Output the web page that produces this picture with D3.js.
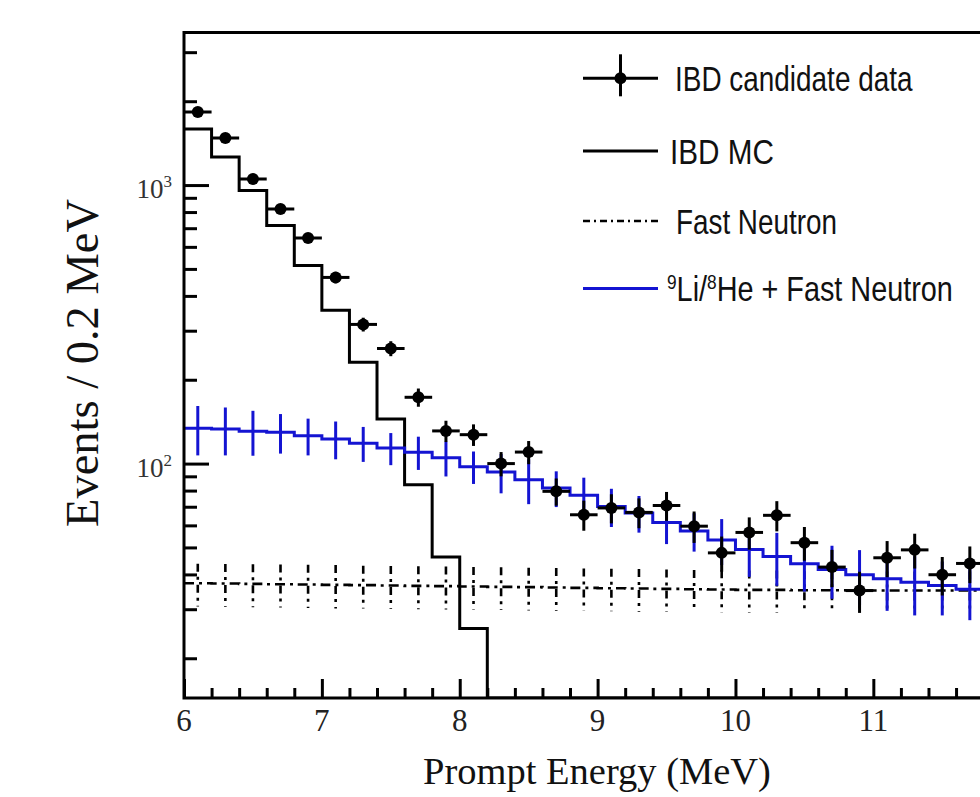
<!DOCTYPE html>
<html>
<head>
<meta charset="utf-8">
<script src="https://cdn.jsdelivr.net/npm/d3@7"></script>
<style>
  html, body { margin: 0; padding: 0; background: #fff; overflow: hidden; }
  svg { display: block; }
</style>
</head>
<body>
<svg id="chart" width="980" height="797"></svg>
<script>
// ---------------- DATA ----------------
// histogram bin lower edges (0.2 MeV bins)
const binLo = [6.0, 6.2, 6.4, 6.6, 6.8, 7.0, 7.2, 7.4, 7.6, 7.8,
               8.0, 8.2, 8.4, 8.6, 8.8, 9.0, 9.2, 9.4, 9.6, 9.8,
               10.0, 10.2, 10.4, 10.6, 10.8, 11.0, 11.2, 11.4, 11.6, 11.8];
const binWidth = 0.2;

// IBD candidate data (points)
const dataCenters = [6.1, 6.3, 6.5, 6.7, 6.9, 7.1, 7.3, 7.5, 7.7, 7.9,
                     8.1, 8.3, 8.5, 8.7, 8.9, 9.1, 9.3, 9.5, 9.7, 9.9,
                     10.1, 10.3, 10.5, 10.7, 10.9, 11.1, 11.3, 11.5, 11.7];
const dataValues = [1829, 1475, 1051, 820, 645, 466, 316, 259, 173, 131,
                    127, 100, 110, 79.5, 65.5, 69.3, 66.8, 70.7, 59.6, 47.8,
                    56.6, 65.2, 52.0, 42.5, 35.0, 45.9, 49.0, 39.9, 43.8];
const dataErrors = [43, 38, 32, 29, 25, 22, 18, 16, 13, 11.5,
                    11.3, 10, 10.5, 8.9, 8.1, 8.3, 8.2, 8.4, 7.7, 6.9,
                    7.5, 8.1, 7.2, 6.5, 5.9, 6.8, 7.0, 6.3, 6.6];

// IBD MC (black step histogram); 0 = below the axis range
const mcValues = [1589, 1260, 956, 716, 514, 355, 231, 144.7, 84.0, 46.2,
                  25.6, 0, 0, 0, 0, 0, 0, 0, 0, 0,
                  0, 0, 0, 0, 0, 0, 0, 0, 0, 0];

// 9Li/8He + Fast Neutron (blue step histogram with errors)
const bgValues = [134, 133, 130.7, 129.6, 126, 122.6, 118.4, 113.7, 109.9, 104.9,
                  97.5, 93.2, 87.5, 81.8, 77.0, 70.2, 66.5, 61.4, 57.3, 53.2,
                  49.2, 46.4, 43.7, 41.7, 39.9, 38.6, 37.5, 36.5, 35.4, 35.0];
const bgErrors = [27, 26, 24, 21, 19, 19, 17, 15, 15, 15,
                  13, 15, 16, 12, 12, 11, 10, 10, 9, 10,
                  10, 10, 9, 9, 9, 9, 9, 8, 8, 8];

// Fast Neutron (dash-dot step histogram with errors)
const fnValues = [37.2, 37.1, 37.0, 36.9, 36.8, 36.7, 36.6, 36.5, 36.4, 36.3,
                  36.2, 36.1, 36.0, 35.9, 35.8, 35.7, 35.6, 35.5, 35.4, 35.3,
                  35.2, 35.2, 35.1, 35.1, 35.0, 35.0, 35.0, 35.0, 35.0, 35.0];
const fnErrors = [6.5, 6.5, 6.5, 6.5, 6.5, 6.5, 6.4, 6.4, 6.4, 6.4,
                  6.3, 6.3, 6.3, 6.3, 6.2, 6.2, 6.2, 6.2, 6.1, 6.1,
                  6.1, 6.1, 6.0, 6.0, 6.0, 6.0, 6.0, 6.0, 6.0, 6.0];

const xTicksMajor = [6, 7, 8, 9, 10, 11, 12];
const xTickLabelVals = [6, 7, 8, 9, 10, 11];
const xTickLabels = ["6", "7", "8", "9", "10", "11"];
const yTicksMajor = [100, 1000];
const yTickExp = ["2", "3"];
const yTicksMinor = [20, 30, 40, 50, 60, 70, 80, 90, 200, 300, 400, 500, 600, 700, 800, 900, 2000, 3000];

const legendLabels = ["IBD candidate data", "IBD MC", "Fast Neutron", "Li/He + Fast Neutron"];

// ---------------- LAYOUT ----------------
(function () {
const svg = d3.select("#chart");
const pL = 184, pR = 1011.2, pT = 32.5, pB = 698;
const x = d3.scaleLinear().domain([6, 12]).range([pL, pR]);
const yMin = 14.4, yMax = 3530;
const y = d3.scaleLog().domain([yMin, yMax]).range([pB, pT]);
const yv = v => (v <= yMin ? pB : y(v));

const blue = "#1414d2";
const serif = "'Liberation Serif', 'Times New Roman', serif";
const sans = "'Liberation Sans', Arial, sans-serif";

svg.append("rect").attr("width", 980).attr("height", 797).attr("fill", "#fff");

svg.append("defs").append("clipPath").attr("id", "plotclip")
  .append("rect").attr("x", pL).attr("y", pT).attr("width", pR - pL).attr("height", pB - pT);

const plot = svg.append("g").attr("clip-path", "url(#plotclip)");

const stepLine = d3.line().curve(d3.curveStepAfter).x(d => x(d[0])).y(d => yv(d[1]));
function stepPoints(vals) {
  const pts = binLo.map((lo, i) => [lo, vals[i]]);
  pts.push([binLo[binLo.length - 1] + binWidth, vals[vals.length - 1]]);
  return pts;
}

// IBD MC
plot.append("path").attr("d", stepLine(stepPoints(mcValues)))
  .attr("fill", "none").attr("stroke", "#000").attr("stroke-width", 3);

// Fast neutron
plot.append("path").attr("d", stepLine(stepPoints(fnValues)))
  .attr("fill", "none").attr("stroke", "#000").attr("stroke-width", 2.6)
  .attr("stroke-dasharray", "10,5,3,5");
plot.append("g").selectAll("line").data(binLo).join("line")
  .attr("x1", d => x(d + binWidth / 2)).attr("x2", d => x(d + binWidth / 2))
  .attr("y1", (d, i) => yv(fnValues[i] + fnErrors[i]))
  .attr("y2", (d, i) => yv(fnValues[i] - fnErrors[i]))
  .attr("stroke", "#000").attr("stroke-width", 2.6).attr("stroke-dasharray", "8,5,3,5");

// 9Li/8He + FN
plot.append("path").attr("d", stepLine(stepPoints(bgValues)))
  .attr("fill", "none").attr("stroke", blue).attr("stroke-width", 3);
plot.append("g").selectAll("line").data(binLo).join("line")
  .attr("x1", d => x(d + binWidth / 2)).attr("x2", d => x(d + binWidth / 2))
  .attr("y1", (d, i) => yv(bgValues[i] + bgErrors[i]))
  .attr("y2", (d, i) => yv(bgValues[i] - bgErrors[i]))
  .attr("stroke", blue).attr("stroke-width", 3);

// Data points
const dg = plot.append("g");
dg.selectAll("line.v").data(dataCenters).join("line").attr("class", "v")
  .attr("x1", d => x(d)).attr("x2", d => x(d))
  .attr("y1", (d, i) => yv(dataValues[i] + dataErrors[i]))
  .attr("y2", (d, i) => yv(dataValues[i] - dataErrors[i]))
  .attr("stroke", "#000").attr("stroke-width", 3);
dg.selectAll("line.h").data(dataCenters).join("line").attr("class", "h")
  .attr("x1", d => x(d - binWidth / 2)).attr("x2", d => x(d + binWidth / 2))
  .attr("y1", (d, i) => yv(dataValues[i])).attr("y2", (d, i) => yv(dataValues[i]))
  .attr("stroke", "#000").attr("stroke-width", 3);
dg.selectAll("circle").data(dataCenters).join("circle")
  .attr("cx", d => x(d)).attr("cy", (d, i) => yv(dataValues[i]))
  .attr("r", 6).attr("fill", "#000");

// ---------------- AXES ----------------
const xMajor = svg.append("g").attr("transform", `translate(0,${pB})`)
  .call(d3.axisBottom(x).tickValues(xTicksMajor).tickSize(-19).tickFormat(""));
const xMinorVals = d3.range(60, 121, 2).map(v => v / 10).filter(v => !xTicksMajor.includes(v));
const xMinor = svg.append("g").attr("transform", `translate(0,${pB})`)
  .call(d3.axisBottom(x).tickValues(xMinorVals).tickSize(-10).tickFormat(""));
const yMajorG = svg.append("g").attr("transform", `translate(${pL},0)`)
  .call(d3.axisLeft(y).tickValues(yTicksMajor).tickSize(-25).tickFormat(""));
const yMinorG = svg.append("g").attr("transform", `translate(${pL},0)`)
  .call(d3.axisLeft(y).tickValues(yTicksMinor).tickSize(-13).tickFormat(""));
[xMajor, xMinor, yMajorG, yMinorG].forEach(g => {
  g.select(".domain").remove();
  g.selectAll(".tick line").attr("stroke", "#000").attr("stroke-width", 3);
});

// frame
svg.append("rect").attr("x", pL).attr("y", pT).attr("width", pR - pL).attr("height", pB - pT)
  .attr("fill", "none").attr("stroke", "#000").attr("stroke-width", 3);

// x tick labels
svg.append("g").selectAll("text").data(xTickLabelVals).join("text")
  .attr("x", d => x(d)).attr("y", 731).attr("text-anchor", "middle")
  .attr("font-family", serif).attr("font-size", 31).attr("fill", "#222")
  .text((d, i) => xTickLabels[i]);

// y tick labels (10^n)
yTicksMajor.forEach((v, i) => {
  const t = svg.append("text").attr("x", 172).attr("y", y(v) + 13).attr("text-anchor", "end")
    .attr("font-family", serif).attr("font-size", 27).attr("fill", "#333");
  t.append("tspan").text("10");
  t.append("tspan").attr("font-size", 17).attr("dy", -11).text(yTickExp[i]);
});

// axis titles
svg.append("text").attr("x", 597).attr("y", 784).attr("text-anchor", "middle")
  .attr("font-family", serif).attr("font-size", 38.5).attr("fill", "#111")
  .text("Prompt Energy (MeV)");
svg.append("text").attr("transform", "translate(98,363) rotate(-90)").attr("text-anchor", "middle")
  .attr("font-family", serif).attr("font-size", 46.5).attr("fill", "#111")
  .text("Events / 0.2 MeV");

// ---------------- LEGEND ----------------
const leg = svg.append("g");
const lx1 = 583, lx2 = 658;
const rows = [78.3, 151, 221, 288.5];
const textX = [675, 670, 676, 667];
const textW = [238, 104, 161, 286];

leg.append("line").attr("x1", lx1).attr("x2", lx2).attr("y1", rows[0]).attr("y2", rows[0])
  .attr("stroke", "#000").attr("stroke-width", 3);
leg.append("line").attr("x1", (lx1 + lx2) / 2).attr("x2", (lx1 + lx2) / 2).attr("y1", rows[0] - 24).attr("y2", rows[0] + 18)
  .attr("stroke", "#000").attr("stroke-width", 3);
leg.append("circle").attr("cx", (lx1 + lx2) / 2).attr("cy", rows[0]).attr("r", 6).attr("fill", "#000");
leg.append("line").attr("x1", lx1).attr("x2", lx2).attr("y1", rows[1]).attr("y2", rows[1])
  .attr("stroke", "#000").attr("stroke-width", 3);
leg.append("line").attr("x1", lx1).attr("x2", lx2).attr("y1", rows[2]).attr("y2", rows[2])
  .attr("stroke", "#000").attr("stroke-width", 2.6).attr("stroke-dasharray", "7,4,2,4");
leg.append("line").attr("x1", lx1).attr("x2", lx2).attr("y1", rows[3]).attr("y2", rows[3])
  .attr("stroke", blue).attr("stroke-width", 3);

rows.forEach((ry, i) => {
  const t = leg.append("text").attr("x", textX[i]).attr("y", ry + 13)
    .attr("font-family", sans).attr("font-size", 35).attr("fill", "#111");
  if (i === 3) {
    t.append("tspan").attr("font-size", 21).attr("dy", -12).text("9");
    t.append("tspan").attr("dy", 12).text("Li/");
    t.append("tspan").attr("font-size", 21).attr("dy", -12).text("8");
    t.append("tspan").attr("dy", 12).text("He + Fast Neutron");
  } else {
    t.text(legendLabels[i]);
  }
  const w = t.node().getBBox().width;
  const s = textW[i] / w;
  t.attr("transform", `translate(${textX[i]},0) scale(${s},1) translate(${-textX[i]},0)`);
});
})();
</script>
</body>
</html>
